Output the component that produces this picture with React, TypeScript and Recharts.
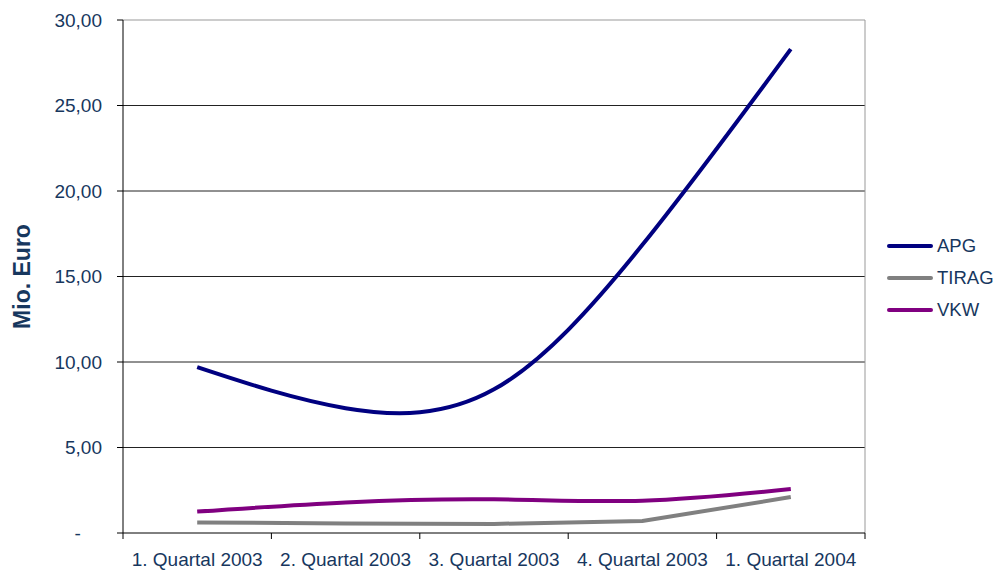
import React from "react";
import {
  LineChart,
  Line,
  XAxis,
  YAxis,
  CartesianGrid,
  ReferenceLine,
  Label
} from "recharts";

const quarters = [
  "1. Quartal 2003",
  "2. Quartal 2003",
  "3. Quartal 2003",
  "4. Quartal 2003",
  "1. Quartal 2004"
];
const apg = [9.7, 7.3, 8.4, 16.85, 28.3];
const tirag = [0.62, 0.55, 0.53, 0.7, 2.1];
const vkw = [1.25, 1.79, 1.97, 1.89, 2.57];
const yTicks = [0, 5, 10, 15, 20, 25, 30];

const series = [
  { key: "APG", color: "#000080", type: "natural" as const },
  { key: "TIRAG", color: "#808080", type: "linear" as const },
  { key: "VKW", color: "#800080", type: "natural" as const }
];

const data = quarters.map((q, i) => ({
  x: i + 0.5,
  name: q,
  APG: apg[i],
  TIRAG: tirag[i],
  VKW: vkw[i]
}));

const xTicks = [0, 0.5, 1, 1.5, 2, 2.5, 3, 3.5, 4, 4.5, 5];

const FONT = "'Liberation Sans', Arial, sans-serif";
const TEXT = "#17375E";

// excel accounting style: zero shows as a dash, padded a bit from the axis
function fmt(v: number) {
  return v === 0 ? "-\u00A0\u00A0\u00A0\u00A0" : v.toFixed(2).replace(".", ",");
}

// recharts hands us y a few px below the axis line (tickSize + tickMargin)
function QuarterTick(props: any) {
  const { x, y, payload } = props;
  const v = payload.value as number;
  const axisY = y - 8;
  if (Number.isInteger(v)) {
    return <line x1={x} y1={axisY} x2={x} y2={axisY + 6} stroke="#000" />;
  }
  return (
    <text x={x} y={axisY + 33} textAnchor="middle" fill={TEXT} fontSize={19} fontFamily={FONT}>
      {quarters[Math.floor(v)]}
    </text>
  );
}

function AxisTitle(props: any) {
  const { viewBox } = props;
  const cx = viewBox.x + 22;
  const cy = viewBox.y + viewBox.height / 2;
  return (
    <text
      x={cx}
      y={cy}
      transform={`rotate(-90, ${cx}, ${cy})`}
      textAnchor="middle"
      dominantBaseline="central"
      fill={TEXT}
      fontSize={23}
      fontWeight="bold"
      fontFamily={FONT}
    >
      Mio. Euro
    </text>
  );
}

export default function App() {
  return (
    <div style={{ position: "absolute", left: 0, top: 0, width: 995, height: 572, background: "#fff" }}>
      <LineChart
        width={995}
        height={572}
        data={data}
        margin={{ top: 20, right: 130, left: 0, bottom: 0 }}
      >
        <CartesianGrid
          vertical={false}
          horizontalValues={[5, 10, 15, 20, 25]}
          stroke="#222"
          strokeWidth={1}
        />
        <XAxis
          dataKey="x"
          type="number"
          domain={[0, 5]}
          ticks={xTicks}
          interval={0}
          height={39}
          axisLine={{ stroke: "#000" }}
          tickLine={false}
          tick={<QuarterTick />}
        />
        <YAxis
          type="number"
          domain={[0, 30]}
          ticks={yTicks}
          interval={0}
          width={123}
          tickSize={6}
          tickMargin={15}
          axisLine={{ stroke: "#000" }}
          tickLine={{ stroke: "#000" }}
          tickFormatter={fmt}
          tick={{ fill: TEXT, fontSize: 19, fontFamily: FONT }}
        >
          <Label content={<AxisTitle />} />
        </YAxis>
        <ReferenceLine y={30} stroke="#999" />
        <ReferenceLine x={5} stroke="#999" />
        {series.map((s) => (
          <Line
            key={s.key}
            dataKey={s.key}
            type={s.type}
            stroke={s.color}
            strokeWidth={4}
            dot={false}
            activeDot={false}
            isAnimationActive={false}
          />
        ))}
      </LineChart>
      <div style={{ position: "absolute", left: 887, top: 230, fontFamily: FONT }}>
        {series.map((s) => (
          <div key={s.key} style={{ display: "flex", alignItems: "center", height: 32 }}>
            <div style={{ width: 46, height: 4, background: s.color, borderRadius: 2, marginRight: 4 }} />
            <span style={{ color: TEXT, fontSize: 18.5 }}>{s.key}</span>
          </div>
        ))}
      </div>
    </div>
  );
}
